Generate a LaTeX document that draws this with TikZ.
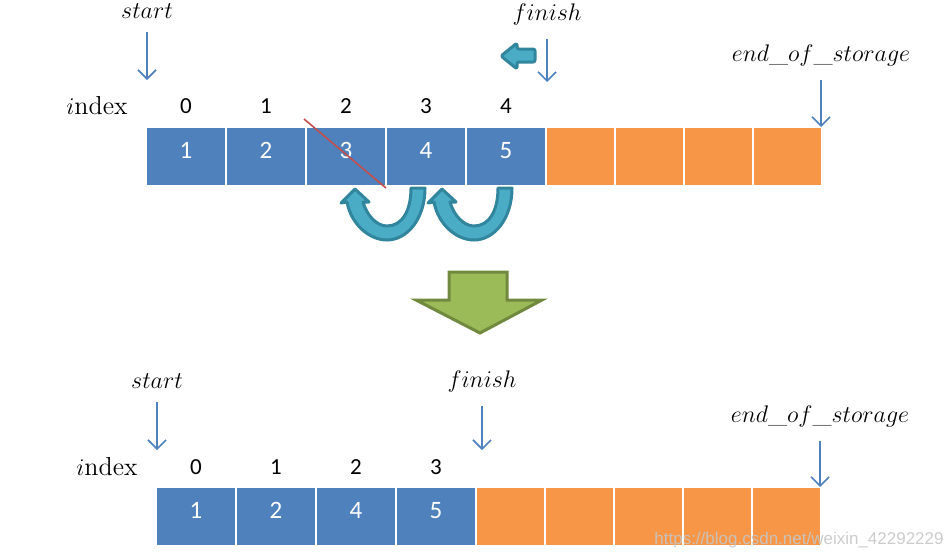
\documentclass[tikz,border=0pt]{standalone}
\usepackage{fontspec}
\newfontfamily\cellfont{Carlito}
\newfontfamily\markfont{Liberation Sans}
\usepackage{xcolor}
\usetikzlibrary{positioning,arrows.meta}
\definecolor{cellblue}{HTML}{4F81BD}
\definecolor{cellorange}{HTML}{F79646}
\definecolor{turnfill}{HTML}{4BACC6}
\definecolor{turnline}{HTML}{31859C}
\definecolor{downfill}{HTML}{9BBB59}
\definecolor{downline}{HTML}{71893F}
\definecolor{strikered}{HTML}{C0504D}

\begin{document}
\begin{tikzpicture}[x=0.5pt, y=-0.5pt, used/.style={fill=cellblue, text=white, font=\cellfont\fontsize{12.5}{14}\selectfont, text depth=6pt, minimum width=39pt, minimum height=28.5pt, inner sep=0pt, outer sep=0pt}, spare/.style={fill=cellorange, minimum width=33.5pt, minimum height=28.5pt, inner sep=0pt, outer sep=0pt}, idx/.style={font=\cellfont\fontsize{11.5}{14}\selectfont}, ptrname/.style={font=\fontsize{13}{15}\selectfont}, ptr/.style={-{Straight Barb[length=4.5pt,width=9pt]}, draw=cellblue, line width=0.8pt, shorten <=3.5pt}, turn/.style={fill=turnfill, draw=turnline, line width=1.5pt, line join=round}, down/.style={fill=downfill, draw=downline, line width=1.5pt, line join=miter}, uarrow/.pic={\draw[turn] (56,-1) -- (70,-1) .. controls (70,30) and (52,51) .. (32,51) .. controls (14,51) and (-4,35) .. (-8,13) -- (-14,14) -- (0,0) -- (14,13) -- (8,13) .. controls (12,27) and (22,37) .. (32,37) .. controls (47,37) and (56,22) .. (56,-1) -- cycle;}]
\useasboundingbox (0,0) rectangle (945,558);
% before erase
\node[used] (old1) at (186,156.5) {1};
\node[used, right=1pt of old1] (old2) {2};
\node[used, right=1pt of old2] (old3) {3};
\node[used, right=1pt of old3] (old4) {4};
\node[used, right=1pt of old4] (old5) {5};
\node[spare, right=1pt of old5] (old6) {};
\node[spare, right=1pt of old6] (old7) {};
\node[spare, right=1pt of old7] (old8) {};
\node[spare, right=1pt of old8] (old9) {};
\node[ptrname] (oldindex) at (97,106) {$i$ndex};
\node[idx] at ([yshift=11pt]old1.north) {0};
\node[idx] at ([yshift=11pt]old2.north) {1};
\node[idx] at ([yshift=11pt]old3.north) {2};
\node[idx] at ([yshift=11pt]old4.north) {3};
\node[idx] at ([yshift=11pt]old5.north) {4};
\node[ptrname] (oldstart) at (147,11) {$start$};
\node[ptrname] (oldfinish) at (547,14) {$finish$};
\node[ptrname] (oldend) at (821,55) {$end\_of\_storage$};
\coordinate (oldstartp) at (147,80);
\coordinate (oldfinishp) at (547,82);
\coordinate (oldendp) at (821,127);
\draw[ptr] (oldstart) -- (oldstartp);
\draw[ptr] (oldfinish) -- (oldfinishp);
\draw[ptr] (oldend) -- (oldendp);
\draw[strikered, line width=0.8pt] (304,119) -- (386,188);
\draw[turn, rounded corners=1pt] (535,49) -- (517,49) -- (517,43) -- (501,56) -- (517,69) -- (517,62) -- (535,62) -- cycle;
\pic at (355,189) {uarrow};
\pic at (442,189) {uarrow};
% big arrow
\draw[down] (449,272) -- (507,272) -- (507,300) -- (542,300) -- (480,333) -- (416,300) -- (449,300) -- cycle;
% after erase
\node[used] (new1) at (196,516.5) {1};
\node[used, right=1pt of new1] (new2) {2};
\node[used, right=1pt of new2] (new3) {4};
\node[used, right=1pt of new3] (new4) {5};
\node[spare, right=1pt of new4] (new5) {};
\node[spare, right=1pt of new5] (new6) {};
\node[spare, right=1pt of new6] (new7) {};
\node[spare, right=1pt of new7] (new8) {};
\node[spare, right=1pt of new8] (new9) {};
\node[ptrname] (newindex) at (107,467) {$i$ndex};
\node[idx] at ([yshift=10.5pt]new1.north) {0};
\node[idx] at ([yshift=10.5pt]new2.north) {1};
\node[idx] at ([yshift=10.5pt]new3.north) {2};
\node[idx] at ([yshift=10.5pt]new4.north) {3};
\node[ptrname] (newstart) at (157,381) {$start$};
\node[ptrname] (newfinish) at (482,381) {$finish$};
\node[ptrname] (newend) at (820,416) {$end\_of\_storage$};
\coordinate (newstartp) at (157,450);
\coordinate (newfinishp) at (482,450);
\coordinate (newendp) at (820,487);
\draw[ptr] (newstart) -- (newstartp);
\draw[ptr] (newfinish) -- (newfinishp);
\draw[ptr] (newend) -- (newendp);
\node[font=\markfont\fontsize{8.5}{10}\selectfont, text=gray!45, opacity=0.9] (mark) at (799,540) {https://blog.csdn.net/weixin\_42292229};
\end{tikzpicture}
\end{document}
